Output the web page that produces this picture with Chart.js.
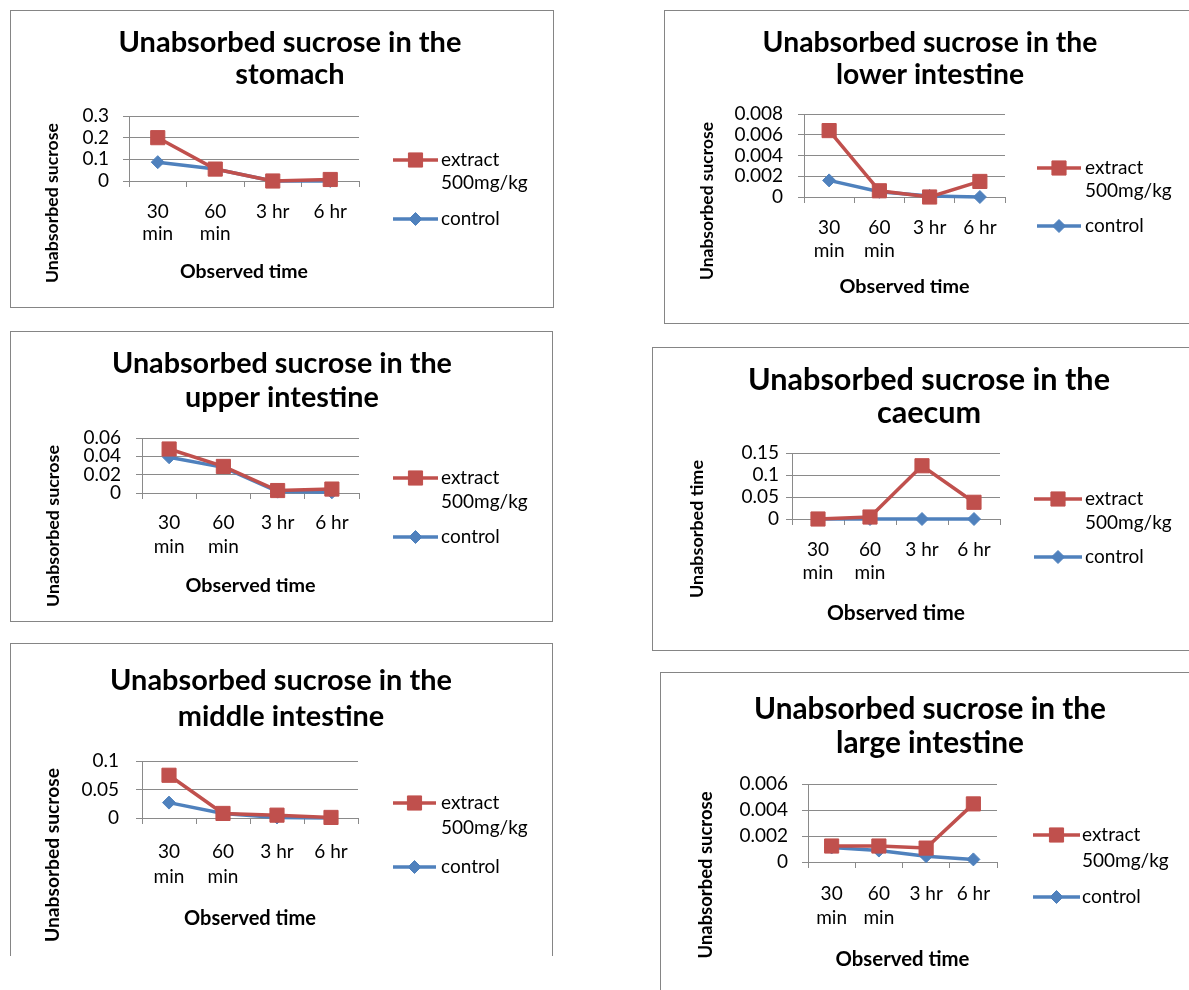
<!DOCTYPE html>
<html lang="en">
<head>
  <meta charset="UTF-8" />
  <title>Unabsorbed sucrose</title>
  <script src="https://cdn.jsdelivr.net/npm/chart.js"></script>
  <style>
    html, body { margin: 0; padding: 0; background: #fff; width: 1189px; height: 990px; overflow: hidden; }
    .panel { position: absolute; box-sizing: border-box; border: 1px solid #858585; background: #fff; }
    .panel canvas { position: absolute; left: 0; top: 0; }
  </style>
</head>
<body>
  <div class="panel" style="left:10px;top:10px;width:544px;height:298px"><canvas id="stomach"></canvas></div>
  <div class="panel" style="left:664px;top:10px;width:532px;height:314px"><canvas id="lower"></canvas></div>
  <div class="panel" style="left:10px;top:331px;width:543px;height:291px"><canvas id="upper"></canvas></div>
  <div class="panel" style="left:652px;top:347px;width:553px;height:304px"><canvas id="caecum"></canvas></div>
  <div class="panel" style="left:10px;top:643px;width:543px;height:313px;border-bottom:none"><canvas id="middle"></canvas></div>
  <div class="panel" style="left:660px;top:672px;width:540px;height:330px"><canvas id="large"></canvas></div>

  <script>
    // categories and legend text
    const timeLabels = [['30', 'min'], ['60', 'min'], '3 hr', '6 hr'];
    const extractName = ['extract', '500mg/kg'];
    const controlName = ['control'];

    // values
    const stomachExtract = [0.2, 0.055, 0, 0.007];
    const stomachControl = [0.087, 0.055, 0, 0];
    const stomachTicks = ['0', '0.1', '0.2', '0.3'];

    const lowerExtract = [0.0064, 0.0006, 0, 0.0015];
    const lowerControl = [0.0016, 0.0005, 0.0001, 0];
    const lowerTicks = ['0', '0.002', '0.004', '0.006', '0.008'];

    const upperExtract = [0.048, 0.029, 0.0027, 0.0043];
    const upperControl = [0.039, 0.028, 0.0015, 0.0008];
    const upperTicks = ['0', '0.02', '0.04', '0.06'];

    const caecumExtract = [0, 0.0045, 0.121, 0.038];
    const caecumControl = [0, 0, 0, 0];
    const caecumTicks = ['0', '0.05', '0.1', '0.15'];

    const middleExtract = [0.075, 0.008, 0.005, 0.001];
    const middleControl = [0.027, 0.008, 0.001, 0];
    const middleTicks = ['0', '0.05', '0.1'];

    const largeExtract = [0.00123, 0.00123, 0.00107, 0.00447];
    const largeControl = [0.00112, 0.00088, 0.00045, 0.0002];
    const largeTicks = ['0', '0.002', '0.004', '0.006'];

    const RED = '#c0504d';
    const BLUE = '#4f81bd';
    const GRID = '#8a8a8a';
    const FONT = 'Lato, "Open Sans", sans-serif';
    const TEXT_SIZE = 19;

    // layout of each panel, page coordinates
    const panels = [
      { canvas: 'stomach', box: [10, 10, 544, 298], title: ['Unabsorbed sucrose in the', 'stomach'], yTitle: 'Unabsorbed sucrose',
        extract: stomachExtract, control: stomachControl, ticks: stomachTicks,
        area: [129, 359, 116, 181], tickRight: 109, catY: [212, 234], obsY: 272, obsW: 128,
        titleX: 290, titleY: [43, 75], titleW: 343, yTitleX: 52, yTitleY: 203, yTitleW: 160,
        legX: [393, 438, 441], legY: [160, 183, 219] },
      { canvas: 'lower', box: [664, 10, 532, 314], title: ['Unabsorbed sucrose in the', 'lower intestine'], yTitle: 'Unabsorbed sucrose',
        extract: lowerExtract, control: lowerControl, ticks: lowerTicks,
        area: [804, 1005, 114, 197], tickRight: 783, catY: [228, 251], obsY: 287, obsW: 130,
        titleX: 930, titleY: [43, 75], titleW: 335, yTitleX: 707, yTitleY: 201, yTitleW: 158,
        legX: [1037, 1081, 1085], legY: [168, 191, 226] },
      { canvas: 'upper', box: [10, 331, 543, 291], title: ['Unabsorbed sucrose in the', 'upper intestine'], yTitle: 'Unabsorbed sucrose',
        extract: upperExtract, control: upperControl, ticks: upperTicks,
        area: [142, 359, 438, 493], tickRight: 121, catY: [523, 547], obsY: 586, obsW: 130,
        titleX: 282, titleY: [364, 398], titleW: 340, yTitleX: 53, yTitleY: 526, yTitleW: 162,
        legX: [393, 438, 441], legY: [478, 502, 537] },
      { canvas: 'caecum', box: [652, 347, 553, 304], title: ['Unabsorbed sucrose in the', 'caecum'], yTitle: 'Unabsorbed time',
        extract: caecumExtract, control: caecumControl, ticks: caecumTicks,
        area: [792, 1000, 453, 519], tickRight: 779, catY: [550, 573], obsY: 613, obsW: 138,
        titleX: 929, titleY: [380, 413], titleW: 362, yTitleX: 697, yTitleY: 529, yTitleW: 138,
        legX: [1034, 1082, 1085], legY: [499, 523, 557] },
      { canvas: 'middle', box: [10, 643, 543, 313], title: ['Unabsorbed sucrose in the', 'middle intestine'], yTitle: 'Unabsorbed sucrose',
        extract: middleExtract, control: middleControl, ticks: middleTicks,
        area: [142, 358, 761, 818], tickRight: 119, catY: [852, 877], obsY: 919, obsW: 132,
        titleX: 281, titleY: [681, 717], titleW: 342, yTitleX: 53, yTitleY: 855, yTitleW: 174,
        legX: [393, 436, 441], legY: [803, 828, 867] },
      { canvas: 'large', box: [660, 672, 540, 330], title: ['Unabsorbed sucrose in the', 'large intestine'], yTitle: 'Unabsorbed sucrose',
        extract: largeExtract, control: largeControl, ticks: largeTicks,
        area: [808, 997, 784, 862], tickRight: 788, catY: [894, 918], obsY: 959, obsW: 134,
        titleX: 930, titleY: [709, 743], titleW: 352, yTitleX: 706, yTitleY: 875, yTitleW: 167,
        legX: [1033, 1080, 1082], legY: [835, 861, 897] }
    ];

    const measureCtx = document.createElement('canvas').getContext('2d');
    function fitSize(text, weight, target) {
      measureCtx.font = `${weight} 100px ${FONT}`;
      return 100 * target / measureCtx.measureText(text).width;
    }

    function marker(ctx, style, x, y, r, color) {
      ctx.beginPath();
      if (style === 'rect') {
        const s = Math.SQRT1_2 * r;
        ctx.rect(x - s, y - s, 2 * s, 2 * s);
      } else {
        ctx.moveTo(x, y - r);
        ctx.lineTo(x + r, y);
        ctx.lineTo(x, y + r);
        ctx.lineTo(x - r, y);
        ctx.closePath();
      }
      ctx.fillStyle = color;
      ctx.fill();
      ctx.lineWidth = 1;
      ctx.strokeStyle = color;
      ctx.stroke();
    }

    // title, rotated y title and the legend
    function decor(p, ox, oy) {
      return {
        id: 'decor',
        afterDraw(chart) {
          const ctx = chart.ctx;
          ctx.save();
          ctx.fillStyle = '#000';
          ctx.textBaseline = 'middle';
          ctx.textAlign = 'center';
          ctx.font = `bold ${fitSize(p.title[0], 'bold', p.titleW)}px ${FONT}`;
          p.title.forEach((t, i) => ctx.fillText(t, p.titleX - ox, p.titleY[i] - oy));

          ctx.save();
          ctx.translate(p.yTitleX - ox, p.yTitleY - oy);
          ctx.rotate(-Math.PI / 2);
          ctx.font = `bold ${fitSize(p.yTitle, 'bold', p.yTitleW)}px ${FONT}`;
          ctx.fillText(p.yTitle, 0, 0);
          ctx.restore();

          const [x0, x1, tx] = p.legX.map(v => v - ox);
          const ly = p.legY.map(v => v - oy);
          const items = [
            { color: RED, style: 'rect', r: 10, y: ly[0], text: extractName, ty: [ly[0], ly[1]] },
            { color: BLUE, style: 'rectRot', r: 6.5, y: ly[2], text: controlName, ty: [ly[2]] }
          ];
          items.forEach(it => {
            ctx.beginPath();
            ctx.moveTo(x0, it.y);
            ctx.lineTo(x1, it.y);
            ctx.lineWidth = 3.5;
            ctx.strokeStyle = it.color;
            ctx.stroke();
            marker(ctx, it.style, (x0 + x1) / 2, it.y, it.r, it.color);
            ctx.fillStyle = '#000';
            ctx.textAlign = 'left';
            ctx.font = `${TEXT_SIZE}px ${FONT}`;
            it.text.forEach((t, i) => ctx.fillText(t, tx, it.ty[i]));
          });
          ctx.restore();
        }
      };
    }

    panels.forEach(p => {
      const [L, T, W, H] = p.box;
      const ox = L + 1, oy = T + 1;
      const cw = W - 2, ch = H - 2;
      const el = document.getElementById(p.canvas);
      el.width = cw;
      el.height = ch;
      const aL = p.area[0] - ox, aR = p.area[1] - ox, aT = p.area[2] - oy, aB = p.area[3] - oy;
      const tickLen = 6;
      const catLH = p.catY[1] - p.catY[0];
      const obsLH = 20;
      const xH = (p.obsY - oy) + obsLH / 2 - aB;
      const ticks = p.ticks;

      new Chart(el, {
        type: 'line',
        data: {
          labels: timeLabels,
          datasets: [
            { label: extractName.join(' '), data: p.extract, borderColor: RED, backgroundColor: RED,
              borderWidth: 3.5, pointStyle: 'rect', pointRadius: 10, pointBorderWidth: 1, clip: false },
            { label: controlName.join(' '), data: p.control, borderColor: BLUE, backgroundColor: BLUE,
              borderWidth: 3.5, pointStyle: 'rectRot', pointRadius: 6.5, pointBorderWidth: 1, clip: false }
          ]
        },
        options: {
          responsive: false,
          animation: false,
          events: [],
          layout: { padding: { left: 0, top: aT, right: cw - aR, bottom: ch - aB - xH } },
          plugins: { legend: { display: false }, tooltip: { enabled: false }, title: { display: false } },
          scales: {
            x: {
              offset: true,
              grid: { offset: true, drawOnChartArea: false, drawTicks: true, tickLength: tickLen, color: GRID },
              border: { color: GRID },
              ticks: {
                color: '#000', autoSkip: false, maxRotation: 0,
                font: { family: FONT, size: TEXT_SIZE, lineHeight: catLH + 'px' },
                padding: (p.catY[0] - oy) - aB - tickLen - catLH / 2
              },
              title: { display: true, text: 'Observed time', color: '#000', padding: 0,
                font: { family: FONT, size: fitSize('Observed time', 'bold', p.obsW), weight: 'bold', lineHeight: obsLH + 'px' } },
              afterFit: s => { s.height = xH; }
            },
            y: {
              min: 0,
              max: parseFloat(ticks[ticks.length - 1]),
              grid: { color: GRID, tickLength: tickLen },
              border: { color: GRID },
              ticks: {
                stepSize: parseFloat(ticks[1]),
                autoSkip: false,
                color: '#000',
                font: { family: FONT, size: TEXT_SIZE },
                padding: aL - tickLen - (p.tickRight - ox),
                callback: (v, i) => ticks[i]
              },
              afterFit: s => { s.width = aL; }
            }
          }
        },
        plugins: [decor(p, ox, oy)]
      });
    });
  </script>
</body>
</html>
